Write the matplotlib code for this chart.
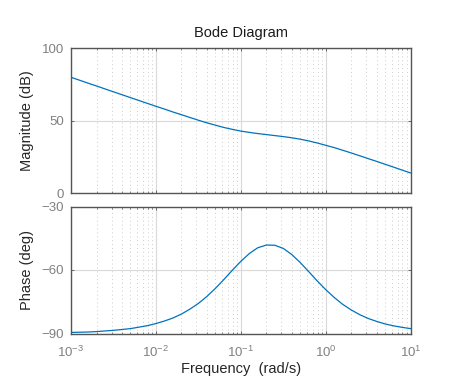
import matplotlib
matplotlib.use("Agg")
import matplotlib.pyplot as plt
from matplotlib.ticker import FixedLocator, FixedFormatter, LogLocator, NullFormatter

freq = [0.001, 0.00126, 0.00158, 0.002, 0.00251, 0.00316, 0.00398, 0.00501, 0.00631, 0.00794,
        0.01, 0.0126, 0.0158, 0.02, 0.0251, 0.0316, 0.0398, 0.0501, 0.0631, 0.0794,
        0.1, 0.126, 0.158, 0.2, 0.251, 0.316, 0.398, 0.501, 0.631, 0.794,
        1.0, 1.26, 1.58, 2.0, 2.51, 3.16, 3.98, 5.01, 6.31, 7.94, 10.0]
magnitude_db = [80.0, 78.0, 76.0, 74.0, 72.0, 70.0, 68.0, 66.0, 64.0, 62.0,
                60.0, 58.1, 56.1, 54.2, 52.3, 50.4, 48.6, 47.0, 45.4, 44.1,
                42.9, 42.0, 41.2, 40.5, 39.8, 39.1, 38.3, 37.3, 36.1, 34.7,
                33.1, 31.5, 29.7, 27.8, 25.9, 23.9, 22.0, 20.0, 18.0, 16.0, 14.0]
phase_deg = [-89.5, -89.4, -89.3, -89.1, -88.8, -88.5, -88.1, -87.7, -87.0, -86.3,
             -85.3, -84.1, -82.7, -80.8, -78.5, -75.8, -72.5, -68.7, -64.5, -60.1,
             -55.9, -52.2, -49.5, -48.2, -48.3, -49.8, -52.7, -56.5, -60.8, -65.2,
             -69.3, -73.0, -76.2, -78.9, -81.1, -82.9, -84.3, -85.5, -86.4, -87.1, -87.7]

x_ticks = [1e-3, 1e-2, 1e-1, 1e0, 1e1]
x_tick_labels = ['$10^{-3}$', '$10^{-2}$', '$10^{-1}$', '$10^{0}$', '$10^{1}$']
mag_ticks = [0, 50, 100]
phase_ticks = [-90, -60, -30]

# ---- style ----
plt.rcParams['font.family'] = ['Liberation Sans', 'DejaVu Sans']
plt.rcParams['mathtext.fontset'] = 'custom'
plt.rcParams['mathtext.rm'] = 'Liberation Sans'
plt.rcParams['mathtext.default'] = 'regular'

LINE = '#0072BD'
TICKC = '#808080'
SPINE = '#555555'
LABC = '#262626'

fig = plt.figure(figsize=(4.54, 3.76), dpi=100)
ax1 = fig.add_axes([71/454, 1-193.3/376, 339.7/454, 145/376])
ax2 = fig.add_axes([71/454, 1-333.5/376, 339.7/454, 127/376])

for ax in (ax1, ax2):
    ax.set_xscale('log')
    ax.set_xlim(1e-3, 1e1)
    ax.xaxis.set_major_locator(FixedLocator(x_ticks))
    ax.xaxis.set_minor_locator(LogLocator(base=10, subs=range(2, 10), numticks=20))
    ax.xaxis.set_minor_formatter(NullFormatter())
    ax.grid(True, which='major', color='#d9d9d9', linewidth=0.8, linestyle='-')
    ax.grid(True, which='minor', axis='x', color='#cccccc', linewidth=0.7, linestyle=(0, (1, 3)))
    ax.set_axisbelow(True)
    for sp in ax.spines.values():
        sp.set_color(SPINE)
        sp.set_linewidth(1.0)
    ax.tick_params(which='both', direction='in', top=True, right=True, colors=SPINE,
                   labelcolor=TICKC, labelsize=9.5)
    ax.tick_params(which='major', length=2.5, width=0.6)
    ax.tick_params(which='minor', length=1.2, width=0.5)
    ax.tick_params(axis='y', pad=5)

ax1.plot(freq, magnitude_db, color=LINE, linewidth=0.9)
ax1.set_ylim(0, 100)
ax1.set_yticks(mag_ticks)
ax1.tick_params(axis='x', which='both', labelbottom=False)
ax1.set_ylabel('Magnitude (dB)', fontsize=10.5, color=LABC)
ax1.yaxis.set_label_coords(-0.108, 0.5)
ax1.set_title('Bode Diagram', fontsize=10.5, color='#1a1a1a', pad=8)

ax2.plot(freq, phase_deg, color=LINE, linewidth=0.9)
ax2.set_ylim(-90, -30)
ax2.set_yticks(phase_ticks)
ax2.xaxis.set_major_formatter(FixedFormatter(x_tick_labels))
ax2.tick_params(axis='x', pad=8)
ax2.set_ylabel('Phase (deg)', fontsize=10.5, color=LABC)
ax2.yaxis.set_label_coords(-0.108, 0.5)
ax2.set_xlabel('Frequency  (rad/s)', fontsize=10.5, color=LABC)
ax2.xaxis.set_label_coords(0.5, -0.224)

fig.savefig('out.png', dpi=100)
